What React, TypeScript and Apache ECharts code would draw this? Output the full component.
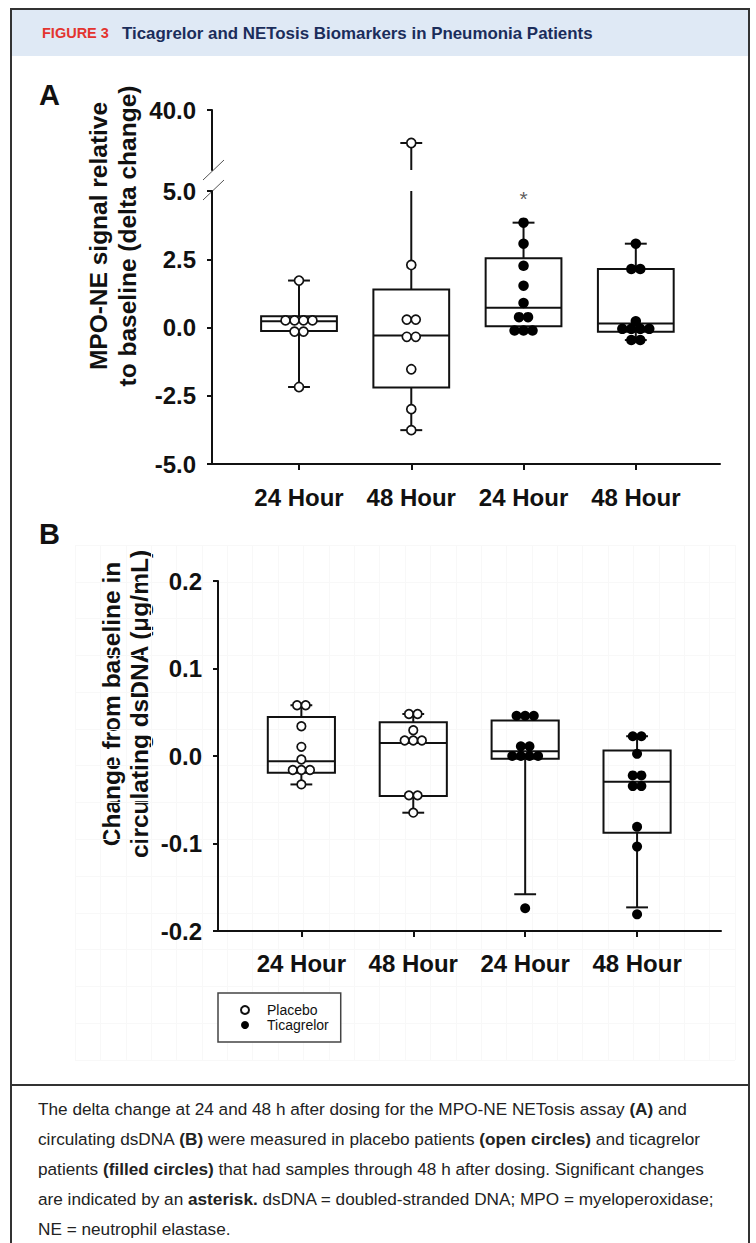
import React, { useEffect, useRef } from 'react';
import * as echarts from 'echarts';

// ---------- data ----------
const categories = ['24 Hour', '48 Hour', '24 Hour', '48 Hour'];
const groupNames = ['Placebo', 'Ticagrelor'];

// Panel A (MPO-NE delta change); broken axis: lower -5..5, upper 10..40
const aLowerTicks = [-5, -2.5, 0, 2.5, 5];
const aUpperTicks = [40];
const aPlacebo24 = [1.72, 0.26, 0.26, 0.26, 0.26, -0.15, -0.15, -2.18];
const aPlacebo48 = [23.5, 2.29, 0.29, 0.29, -0.34, -0.34, -1.53, -2.99, -3.76];
const aTica24 = [3.84, 3.07, 2.26, 1.53, 0.9, 0.38, 0.38, -0.11, -0.11, -0.11];
const aTica48 = [3.07, 2.14, 2.14, 0.23, -0.05, -0.05, -0.05, -0.05, -0.46, -0.46];
// [min whisker, Q1, median, Q3, max whisker]
const aBoxes = [
  [-2.18, -0.13, 0.23, 0.41, 1.72],
  [-3.76, -2.2, -0.29, 1.39, 23.5],
  [-0.11, 0.05, 0.72, 2.54, 3.84],
  [-0.46, -0.16, 0.15, 2.14, 3.07],
];
const aAsterisk = [[3, 4.72]];

// Panel B (dsDNA change, µg/mL)
const bTicks = [-0.2, -0.1, 0, 0.1, 0.2];
const bPlacebo24 = [0.058, 0.058, 0.034, 0.0105, -0.004, -0.016, -0.016, -0.016, -0.0325];
const bPlacebo48 = [0.048, 0.048, 0.0294, 0.0177, 0.0177, 0.0177, -0.045, -0.045, -0.0648];
const bTica24 = [0.046, 0.046, 0.046, 0.011, 0.011, 0.0, 0.0, 0.0, 0.0, -0.174];
const bTica48 = [0.0226, 0.0226, 0.0025, -0.0222, -0.0222, -0.0344, -0.0344, -0.081, -0.1035, -0.181];
const bBoxes = [
  [-0.0325, -0.0192, -0.006, 0.0447, 0.058],
  [-0.0648, -0.0458, 0.015, 0.0385, 0.048],
  [-0.158, -0.0032, 0.0055, 0.0405, 0.046],
  [-0.173, -0.0876, -0.0294, 0.0063, 0.0226],
];

const captionLines = [
  'The delta change at 24 and 48 h after dosing for the MPO-NE NETosis assay {b|(A)} and',
  'circulating dsDNA {b|(B)} were measured in placebo patients {b|(open circles)} and ticagrelor',
  'patients {b|(filled circles)} that had samples through 48 h after dosing. Significant changes',
  'are indicated by an {b|asterisk.} dsDNA = doubled-stranded DNA; MPO = myeloperoxidase;',
  'NE = neutrophil elastase.',
];

// ---------- helpers ----------
const FONT = '"Liberation Sans", Arial, Helvetica, sans-serif';
const INK = '#111';
const A_LOWER_MAX = 5;
const A_UPPER_MIN = 10;

function swarm(values: number[], center: number, step: number) {
  const counts = new Map<number, number>();
  values.forEach((v) => counts.set(v, (counts.get(v) || 0) + 1));
  const seen = new Map<number, number>();
  return values.map((v) => {
    const n = counts.get(v) as number;
    const k = seen.get(v) || 0;
    seen.set(v, k + 1);
    return [center + (k - (n - 1) / 2) * step, v];
  });
}

function fmt1(v: number) {
  return (Math.abs(v) < 1e-9 ? 0 : v).toFixed(1);
}

function boxRenderer(boxW: number, capW: number, yTop: number | null) {
  return (params: any, api: any) => {
    const x = api.value(0);
    const lo = api.value(1);
    const q1 = api.value(2);
    const med = api.value(3);
    const q3 = api.value(4);
    const hi = api.value(5);
    const half = api.size([boxW, 0])[0] / 2;
    const capHalf = api.size([capW, 0])[0] / 2;
    const clipped = yTop !== null && hi > yTop;
    const pLo = api.coord([x, lo]);
    const pQ1 = api.coord([x, q1]);
    const pMed = api.coord([x, med]);
    const pQ3 = api.coord([x, q3]);
    const pHi = api.coord([x, clipped ? (yTop as number) : hi]);
    const cx = pQ1[0];
    const st = { stroke: INK, lineWidth: 2, fill: 'none' };
    const children: any[] = [
      { type: 'line', shape: { x1: cx, y1: pQ3[1], x2: cx, y2: pHi[1] }, style: st },
      { type: 'line', shape: { x1: cx, y1: pQ1[1], x2: cx, y2: pLo[1] }, style: st },
      { type: 'rect', shape: { x: cx - half, y: pQ3[1], width: half * 2, height: pQ1[1] - pQ3[1] }, style: st },
      { type: 'line', shape: { x1: cx - half, y1: pMed[1], x2: cx + half, y2: pMed[1] }, style: st },
      { type: 'line', shape: { x1: cx - capHalf, y1: pLo[1], x2: cx + capHalf, y2: pLo[1] }, style: st },
    ];
    if (!clipped) {
      children.push({ type: 'line', shape: { x1: cx - capHalf, y1: pHi[1], x2: cx + capHalf, y2: pHi[1] }, style: st });
    }
    return { type: 'group', children };
  };
}

function upperWhiskerRenderer(capW: number) {
  return (params: any, api: any) => {
    const x = api.value(0);
    const hi = api.value(1);
    const base = api.coord([x, A_UPPER_MIN]);
    const top = api.coord([x, hi]);
    const capHalf = api.size([capW, 0])[0] / 2;
    const st = { stroke: INK, lineWidth: 2 };
    return {
      type: 'group',
      children: [
        { type: 'line', shape: { x1: base[0], y1: base[1], x2: top[0], y2: top[1] }, style: st },
        { type: 'line', shape: { x1: top[0] - capHalf, y1: top[1], x2: top[0] + capHalf, y2: top[1] }, style: st },
      ],
    };
  };
}

const A_STEP = 0.08;
const B_STEP = 0.077;
const aPlaceboAll = [...swarm(aPlacebo24, 1, A_STEP), ...swarm(aPlacebo48, 2, A_STEP)];
const aPlaceboLower = aPlaceboAll.filter((p) => p[1] <= A_LOWER_MAX);
const aPlaceboUpper = aPlaceboAll.filter((p) => p[1] > A_LOWER_MAX);
const aTicaPts = [...swarm(aTica24, 3, A_STEP), ...swarm(aTica48, 4, A_STEP)];
const bPlaceboPts = [...swarm(bPlacebo24, 1, B_STEP), ...swarm(bPlacebo48, 2, B_STEP)];
const bTicaPts = [...swarm(bTica24, 3, B_STEP), ...swarm(bTica48, 4, B_STEP)];

const openStyle = { color: '#fff', borderColor: INK, borderWidth: 1.7, opacity: 1 };
const filledStyle = { color: '#000', borderColor: '#000', borderWidth: 0, opacity: 1 };

const tickLabel = { fontFamily: FONT, fontWeight: 'bold' as const, fontSize: 24, color: INK };

function catAxis(gridIndex: number, min: number, max: number, margin: number) {
  return {
    type: 'value',
    gridIndex,
    min,
    max,
    axisLine: { show: true, onZero: false, lineStyle: { color: INK, width: 2 } },
    axisTick: { show: true, customValues: [1, 2, 3, 4], length: 6, lineStyle: { color: INK, width: 2 } },
    axisLabel: {
      show: true,
      customValues: [1, 2, 3, 4],
      formatter: (v: number) => categories[Math.round(v) - 1] || '',
      margin,
      ...tickLabel,
    },
    splitLine: { show: false },
  };
}

function valAxis(gridIndex: number, min: number, max: number, ticks: number[], margin: number) {
  return {
    type: 'value',
    gridIndex,
    min,
    max,
    axisLine: { show: true, onZero: false, lineStyle: { color: INK, width: 2 } },
    axisTick: { show: true, customValues: ticks, length: 5, lineStyle: { color: INK, width: 2 } },
    axisLabel: { show: true, customValues: ticks, formatter: (v: number) => fmt1(v), margin, ...tickLabel },
    splitLine: { show: false },
  };
}

const hiddenAxis = (gridIndex: number, min: number, max: number, extra: any = {}) => ({
  type: 'value',
  gridIndex,
  min,
  max,
  show: true,
  axisLine: { show: false },
  axisTick: { show: false },
  axisLabel: { show: false },
  splitLine: { show: false },
  ...extra,
});

const option: any = {
  animation: false,
  backgroundColor: '#fff',
  textStyle: { fontFamily: FONT },
  grid: [
    { left: 212, top: 191, width: 508, height: 273 }, // A lower
    { left: 212, top: 110, width: 508, height: 60 }, // A upper
    { left: 218, top: 581, width: 503, height: 350 }, // B
    { left: 75, top: 545, width: 660, height: 515, z: 0 }, // faint paper grid behind B
  ],
  xAxis: [
    catAxis(0, 0.225, 4.75, 21),
    hiddenAxis(1, 0.225, 4.75),
    catAxis(2, 0.255, 4.75, 20),
    hiddenAxis(3, 0, 26, { interval: 1, splitLine: { show: true, lineStyle: { color: '#f8f8f8', width: 1 } } }),
  ],
  yAxis: [
    valAxis(0, -5, 5, aLowerTicks, 16),
    valAxis(1, A_UPPER_MIN, 40, aUpperTicks, 16),
    valAxis(2, -0.2, 0.2, bTicks, 16),
    hiddenAxis(3, 0, 14, { interval: 1, splitLine: { show: true, lineStyle: { color: '#f8f8f8', width: 1 } } }),
  ],
  legend: {
    left: 218,
    top: 993,
    orient: 'vertical',
    data: groupNames,
    selectedMode: false,
    itemWidth: 34,
    itemHeight: 8,
    itemGap: 1,
    padding: [10, 12, 10, 22],
    borderColor: '#444',
    borderWidth: 1.5,
    backgroundColor: '#fff',
    textStyle: { fontFamily: FONT, fontSize: 14, color: INK },
  },
  series: [
    {
      type: 'custom',
      name: 'boxA',
      xAxisIndex: 0,
      yAxisIndex: 0,
      clip: false,
      z: 2,
      renderItem: boxRenderer(0.675, 0.195, A_LOWER_MAX),
      data: aBoxes.map((b, i) => [i + 1, ...b]),
    },
    {
      type: 'custom',
      name: 'boxAUpper',
      xAxisIndex: 1,
      yAxisIndex: 1,
      clip: false,
      z: 2,
      renderItem: upperWhiskerRenderer(0.195),
      data: aBoxes.map((b, i) => [i + 1, b[4]]).filter((d) => d[1] > A_LOWER_MAX),
    },
    {
      type: 'scatter',
      name: groupNames[0],
      xAxisIndex: 0,
      yAxisIndex: 0,
      symbol: 'circle',
      symbolSize: 9,
      itemStyle: openStyle,
      z: 4,
      data: aPlaceboLower,
    },
    {
      type: 'scatter',
      name: groupNames[1],
      xAxisIndex: 0,
      yAxisIndex: 0,
      symbol: 'circle',
      symbolSize: 10.5,
      itemStyle: filledStyle,
      z: 4,
      data: aTicaPts,
    },
    {
      type: 'scatter',
      name: groupNames[0],
      xAxisIndex: 1,
      yAxisIndex: 1,
      symbol: 'circle',
      symbolSize: 9,
      itemStyle: openStyle,
      z: 4,
      data: aPlaceboUpper,
    },
    {
      type: 'scatter',
      name: 'significance',
      xAxisIndex: 0,
      yAxisIndex: 0,
      symbolSize: 0.1,
      itemStyle: { color: 'transparent' },
      label: { show: true, position: 'inside', formatter: '*', fontSize: 21, color: '#333', fontFamily: FONT },
      z: 4,
      data: aAsterisk,
    },
    {
      type: 'custom',
      name: 'boxB',
      xAxisIndex: 2,
      yAxisIndex: 2,
      clip: false,
      z: 2,
      renderItem: boxRenderer(0.6, 0.195, null),
      data: bBoxes.map((b, i) => [i + 1, ...b]),
    },
    {
      type: 'scatter',
      name: groupNames[0],
      xAxisIndex: 2,
      yAxisIndex: 2,
      symbol: 'circle',
      symbolSize: 8.5,
      itemStyle: openStyle,
      z: 4,
      data: bPlaceboPts,
    },
    {
      type: 'scatter',
      name: groupNames[1],
      xAxisIndex: 2,
      yAxisIndex: 2,
      symbol: 'circle',
      symbolSize: 10,
      itemStyle: filledStyle,
      z: 4,
      data: bTicaPts,
    },
  ],
  graphic: [
    { type: 'rect', z: -10, shape: { x: 11, y: 9, width: 738, height: 47 }, style: { fill: '#dfe9f5' } },
    {
      type: 'text',
      x: 42,
      y: 33,
      style: { text: 'FIGURE 3', fontFamily: FONT, fontWeight: 'bold', fontSize: 14.5, fill: '#e3342f', verticalAlign: 'middle' },
    },
    {
      type: 'text',
      x: 122,
      y: 33,
      style: {
        text: 'Ticagrelor and NETosis Biomarkers in Pneumonia Patients',
        fontFamily: FONT,
        fontWeight: 'bold',
        fontSize: 16.9,
        fill: '#1b2d5b',
        verticalAlign: 'middle',
      },
    },
    { type: 'rect', z: 50, shape: { x: 11, y: 9, width: 738, height: 1260 }, style: { fill: 'none', stroke: '#333', lineWidth: 2 } },
    { type: 'line', z: 50, shape: { x1: 11, y1: 1085, x2: 749, y2: 1085 }, style: { stroke: '#333', lineWidth: 2 } },
    {
      type: 'text',
      x: 39,
      y: 95,
      style: { text: 'A', fontFamily: FONT, fontWeight: 'bold', fontSize: 29, fill: INK, verticalAlign: 'middle' },
    },
    {
      type: 'text',
      x: 39,
      y: 534,
      style: { text: 'B', fontFamily: FONT, fontWeight: 'bold', fontSize: 29, fill: INK, verticalAlign: 'middle' },
    },
    {
      type: 'text',
      x: 113,
      y: 236,
      rotation: Math.PI / 2,
      style: {
        text: 'MPO-NE signal relative\nto baseline (delta change)',
        fontFamily: FONT,
        fontWeight: 'bold',
        fontSize: 24.5,
        lineHeight: 29,
        fill: INK,
        align: 'center',
        verticalAlign: 'middle',
      },
    },
    {
      type: 'text',
      x: 125,
      y: 704,
      rotation: Math.PI / 2,
      style: {
        text: 'Change from baseline in\ncirculating dsDNA (\u03bcg/mL)',
        fontFamily: FONT,
        fontWeight: 'bold',
        fontSize: 24.5,
        lineHeight: 28,
        fill: INK,
        align: 'center',
        verticalAlign: 'middle',
      },
    },
    // axis-break marks
    { type: 'line', shape: { x1: 203, y1: 180, x2: 224, y2: 160 }, style: { stroke: '#555', lineWidth: 1 } },
    { type: 'line', shape: { x1: 203, y1: 200, x2: 224, y2: 180 }, style: { stroke: '#555', lineWidth: 1 } },
    {
      type: 'text',
      x: 38,
      y: 1094,
      style: {
        text: captionLines.join('\n'),
        fontFamily: FONT,
        fontSize: 17.2,
        lineHeight: 30,
        fill: '#222',
        verticalAlign: 'top',
        rich: { b: { fontFamily: FONT, fontWeight: 'bold', fontSize: 17.2, lineHeight: 30, fill: '#222' } },
      },
    },
  ],
};

export default function App() {
  const ref = useRef<HTMLDivElement>(null);
  useEffect(() => {
    document.body.style.margin = '0';
    const chart = echarts.init(ref.current as HTMLDivElement, null, { renderer: 'svg' });
    chart.setOption(option);
    return () => chart.dispose();
  }, []);
  return <div ref={ref} style={{ width: 756, height: 1243 }} />;
}
